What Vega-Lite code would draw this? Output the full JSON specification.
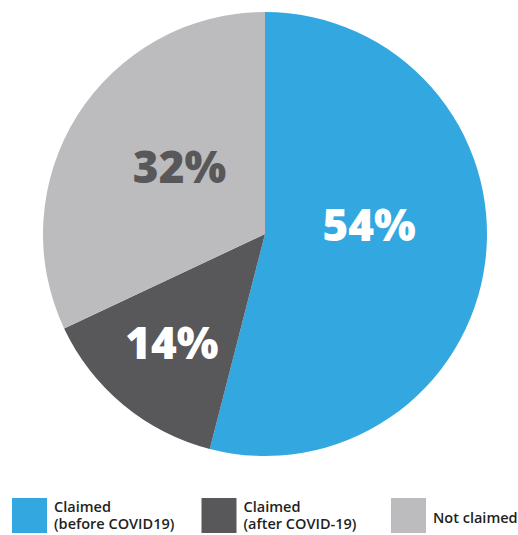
{
  "$schema": "https://vega.github.io/schema/vega-lite/v6.json",
  "padding": 0,
  "spacing": 20,
  "background": "white",
  "config": {"view": {"stroke": null}},
  "data": {"values": [
    {"category": "Claimed\n(before COVID19)", "value": 54, "order": 1, "label": "54%"},
    {"category": "Claimed\n(after COVID-19)", "value": 14, "order": 2, "label": "14%"},
    {"category": "Not claimed", "value": 32, "order": 3, "label": "32%"}
  ]},
  "vconcat": [
    {
      "width": 530,
      "height": 468,
      "encoding": {
        "theta": {"field": "value", "type": "quantitative", "stack": true},
        "order": {"field": "order", "type": "quantitative"}
      },
      "layer": [
        {
          "mark": {"type": "arc", "outerRadius": 222, "strokeWidth": 0},
          "encoding": {
            "color": {
              "field": "category", "type": "nominal",
              "scale": {"domain": ["Claimed\n(before COVID19)", "Claimed\n(after COVID-19)", "Not claimed"], "range": ["#33a8e0", "#58585a", "#bcbcbe"]},
              "legend": null
            }
          }
        },
        {
          "mark": {"type": "text", "radius": 105, "dy": -19, "font": "Open Sans", "fontSize": 44, "fontWeight": 800, "fill": "white"},
          "encoding": {"text": {"condition": {"test": "datum.order == 1", "field": "label"}, "value": ""}}
        },
        {
          "mark": {"type": "text", "radius": 146, "font": "Open Sans", "fontSize": 44, "fontWeight": 800, "fill": "white"},
          "encoding": {"text": {"condition": {"test": "datum.order == 2", "field": "label"}, "value": ""}}
        },
        {
          "mark": {"type": "text", "radius": 106, "dx": 4, "dy": -7, "font": "Open Sans", "fontSize": 44, "fontWeight": 800, "fill": "#58585a"},
          "encoding": {"text": {"condition": {"test": "datum.order == 3", "field": "label"}, "value": ""}}
        }
      ]
    },
    {
      "width": 438,
      "height": 55,
      "encoding": {
        "x": {
          "field": "category", "type": "nominal",
          "scale": {"type": "point", "domain": ["Claimed\n(before COVID19)", "Claimed\n(after COVID-19)", "Not claimed"], "padding": 0.1557},
          "axis": null
        }
      },
      "layer": [
        {
          "mark": {"type": "point", "shape": "square", "size": 1225, "filled": true, "opacity": 1, "strokeWidth": 0},
          "encoding": {
            "color": {
              "field": "category", "type": "nominal",
              "scale": {"domain": ["Claimed\n(before COVID19)", "Claimed\n(after COVID-19)", "Not claimed"], "range": ["#33a8e0", "#58585a", "#bcbcbe"]},
              "legend": null
            }
          }
        },
        {
          "transform": [{"filter": "datum.order != 3"}],
          "mark": {"type": "text", "align": "left", "baseline": "middle", "dx": 24.5, "dy": -8, "lineBreak": "\n", "lineHeight": 17, "font": "Open Sans", "fontSize": 14.5, "fontWeight": 600, "fill": "#231f20"},
          "encoding": {"text": {"field": "category"}}
        },
        {
          "transform": [{"filter": "datum.order == 3"}],
          "mark": {"type": "text", "align": "left", "baseline": "middle", "dx": 24.5, "dy": 3, "font": "Open Sans", "fontSize": 14.5, "fontWeight": 600, "fill": "#231f20"},
          "encoding": {"text": {"field": "category"}}
        }
      ]
    }
  ]
}
